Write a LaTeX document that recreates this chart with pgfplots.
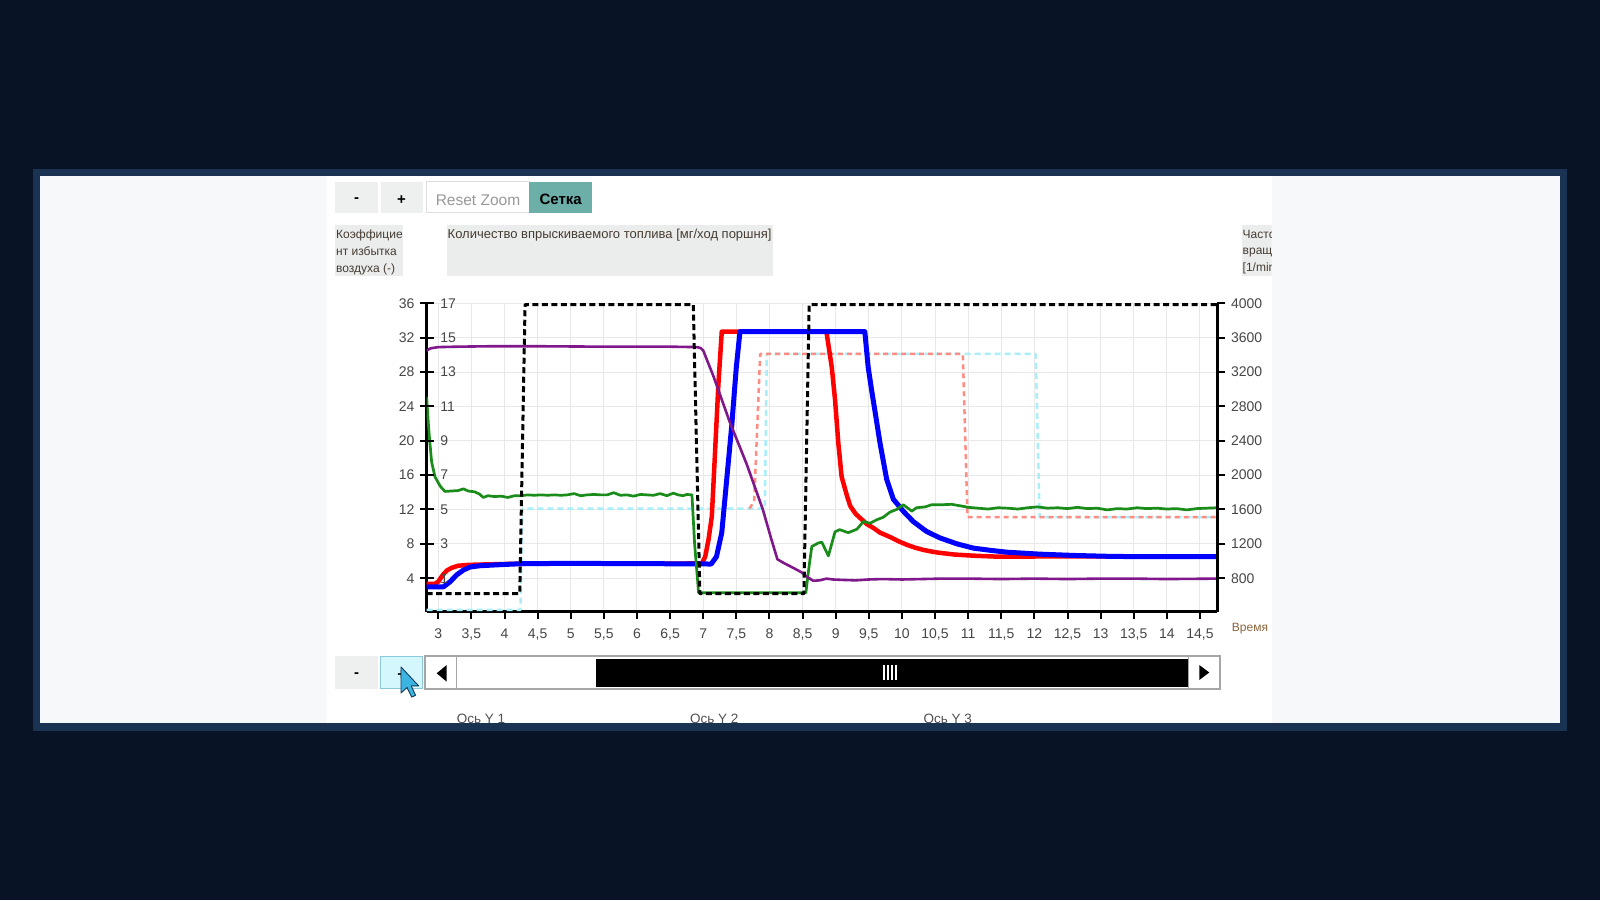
\documentclass[border=0pt]{standalone}
\usepackage{pgfplots}
\pgfplotsset{compat=1.18}
\usepackage{fontspec}
\setmainfont{Liberation Sans}
\definecolor{bgdark}{RGB}{8,20,38}
\definecolor{bord}{RGB}{27,51,82}
\definecolor{panel}{RGB}{247,248,250}
\definecolor{btngray}{RGB}{238,239,239}
\definecolor{tealbtn}{RGB}{108,174,168}
\definecolor{lblbox}{RGB}{235,237,237}
\definecolor{ticktext}{RGB}{70,70,70}
\definecolor{lbltext}{RGB}{70,60,50}
\definecolor{gridc}{RGB}{232,232,232}
\definecolor{cgreen}{RGB}{26,140,26}
\definecolor{cpurple}{RGB}{128,24,140}
\definecolor{csalmon}{RGB}{255,140,130}
\definecolor{ccyan}{RGB}{170,238,250}
\definecolor{plusbtn}{RGB}{212,246,253}
\definecolor{plusbord}{RGB}{140,200,220}
\definecolor{cursorc}{RGB}{60,180,225}
\pgfplotsset{
  commonaxis/.style={
    scale only axis, width=790.6pt, height=308.4pt,
    at={(426.7pt,288.3pt)}, anchor=south west,
    xmin=2.825, xmax=14.762,
    /pgf/number format/use comma,
    /pgf/number format/1000 sep={},
    /pgf/number format/assume math mode=true,
    tick label style={font=\fontsize{14}{14}\selectfont, text=ticktext},
  }
}
\begin{document}
\begin{tikzpicture}[x=1pt,y=1pt]
\useasboundingbox (0,0) rectangle (1600,900);
\fill[bgdark] (0,0) rectangle (1600,900);
\fill[bord] (33.3,169.3) rectangle (1566.7,730.7);
\fill[panel] (40,176.7) rectangle (1560,724);
\fill[white] (326.7,176.7) rectangle (1271.7,724);
% top buttons
\fill[btngray] (335,687) rectangle (378,718);
\node[font=\bfseries\fontsize{15}{15}\selectfont] at (356.5,699.5) {-};
\fill[btngray] (380.5,687) rectangle (422.5,718);
\node[font=\bfseries\fontsize{15}{15}\selectfont] at (401.5,700) {+};
\filldraw[fill=white, draw=gray!25, line width=1pt] (426,687) rectangle (529,718);
\node[font=\fontsize{15.5}{15.5}\selectfont, text=gray!80] at (478,700) {Reset Zoom};
\fill[tealbtn] (529,687) rectangle (592.3,718);
\node[font=\bfseries\fontsize{15}{15}\selectfont] at (560.7,700.5) {Сетка};
% label boxes
\fill[lblbox] (335,624) rectangle (403.3,675);
\begin{scope}[font=\fontsize{12}{12}\selectfont, text=lbltext]
\node[anchor=base west, inner sep=0pt] at (336,661) {Коэффицие};
\node[anchor=base west, inner sep=0pt] at (336,644.5) {нт избытка};
\node[anchor=base west, inner sep=0pt] at (336,627.8) {воздуха (-)};
\end{scope}
\fill[lblbox] (446.7,624) rectangle (772.7,675);
\node[anchor=base west, inner sep=0pt, font=\fontsize{13}{13}\selectfont, text=lbltext] at (447.5,661) {Количество впрыскиваемого топлива [мг/ход поршня]};
\begin{scope}
\clip (1240,600) rectangle (1271.7,700);
\fill[lblbox] (1241.7,624) rectangle (1275,675);
\begin{scope}[font=\fontsize{12}{12}\selectfont, text=lbltext]
\node[anchor=base west, inner sep=0pt] at (1242.5,661) {Частота};
\node[anchor=base west, inner sep=0pt] at (1242.5,645.5) {вращения};
\node[anchor=base west, inner sep=0pt] at (1242.5,628.5) {[1/min]};
\end{scope}
\end{scope}
% Time label
\node[anchor=west, inner sep=0pt, font=\fontsize{12}{12}\selectfont, text={rgb,255:red,140;green,100;blue,60}] at (1231.7,271) {Время};

% main axis with data
\begin{axis}[commonaxis, ymin=0.1, ymax=36,
  axis x line*=bottom, axis y line*=left,
  axis line style={line width=2.7pt, black},
  xtick={3,3.5,...,14.5},
  ytick={4,8,...,36},
  grid=major, grid style={line width=1pt, gridc},
  tick align=outside, major tick length=7pt,
  xtick style={line width=2pt, black},
  ytick style={draw=none},
  yticklabel style={anchor=east, inner sep=0pt, xshift=-5pt},
  xticklabel style={anchor=north, inner sep=0pt, yshift=-10pt},
  every axis plot/.append style={line join=round, line cap=round},
]
\addplot[ccyan, line width=2.5pt, dash pattern=on 6pt off 4pt, line cap=butt] coordinates {(2.825,0.3) (4.24,0.3) (4.27,12.1) (7.93,12.1) (7.96,30.1) (12.02,30.1) (12.08,11.1) (14.762,11.1)};
\addplot[csalmon, line width=2.5pt, dash pattern=on 5pt off 4pt, line cap=butt] coordinates {(7.70,12.1) (7.77,13.0) (7.86,30.1) (10.92,30.1) (10.99,11.1) (14.762,11.1)};
\addplot[red, line width=4.5pt] coordinates {(2.825,3.35) (2.95,3.35) (3.0,3.6) (3.07,4.4) (3.13,4.9) (3.2,5.2) (3.3,5.45) (3.45,5.55) (3.7,5.6) (4.0,5.65) (4.5,5.7) (5.5,5.7) (6.5,5.7) (6.98,5.72) (7.03,6.5) (7.08,8.5) (7.13,11.2) (7.18,18.9) (7.23,26.7) (7.28,32.7) (8.86,32.7) (8.94,28.6) (8.99,24.8) (9.04,19.7) (9.09,15.8) (9.17,13.6) (9.22,12.4) (9.30,11.5) (9.37,11.0) (9.47,10.3) (9.57,9.85) (9.67,9.3) (9.82,8.8) (9.95,8.3) (10.07,7.9) (10.2,7.55) (10.32,7.3) (10.45,7.1) (10.57,6.95) (10.8,6.75) (11.08,6.62) (11.4,6.52) (11.8,6.5) (12.2,6.55) (13.0,6.55) (14.0,6.55) (14.762,6.55)};
\addplot[blue, line width=5pt] coordinates {(2.825,3.0) (3.08,3.0) (3.18,3.6) (3.28,4.4) (3.38,4.95) (3.48,5.3) (3.63,5.45) (4.0,5.6) (4.3,5.7) (5.0,5.72) (6.0,5.7) (7.12,5.65) (7.2,6.5) (7.28,9.3) (7.35,15.1) (7.43,21.7) (7.5,28.6) (7.555,32.7) (9.44,32.7) (9.49,28.6) (9.54,26.0) (9.59,23.6) (9.67,19.7) (9.77,15.5) (9.87,13.2) (10.02,11.8) (10.17,10.6) (10.37,9.45) (10.57,8.7) (10.83,8.0) (11.08,7.5) (11.33,7.25) (11.58,7.03) (12.08,6.8) (12.59,6.65) (13.1,6.55) (13.6,6.5) (14.762,6.5)};
\addplot[cgreen, line width=2.7pt] coordinates {(2.825,25.0) (2.85,22.0) (2.87,20.0) (2.9,17.5) (2.95,15.8) (3.03,14.7) (3.1,14.1) (3.2,14.15) (3.3,14.2) (3.38,14.4) (3.45,14.15) (3.55,14.05) (3.62,13.8) (3.68,13.4) (3.75,13.6) (3.85,13.5) (3.95,13.55) (4.05,13.4) (4.15,13.6) (4.25,13.6) (4.35,13.7) (4.45,13.65) (4.55,13.7) (4.65,13.65) (4.75,13.7) (4.85,13.65) (4.95,13.7) (5.05,13.85) (5.15,13.6) (5.25,13.7) (5.35,13.75) (5.45,13.7) (5.55,13.7) (5.65,13.95) (5.75,13.65) (5.85,13.7) (5.95,13.55) (6.05,13.75) (6.15,13.7) (6.25,13.65) (6.35,13.85) (6.45,13.6) (6.55,13.9) (6.62,13.7) (6.7,13.6) (6.75,13.75) (6.83,13.7) (6.87,8.0) (6.93,2.3) (8.55,2.3) (8.6,5.5) (8.64,7.7) (8.74,8.1) (8.79,8.2) (8.89,6.6) (8.99,9.4) (9.06,9.65) (9.19,9.3) (9.32,9.7) (9.42,10.6) (9.52,10.4) (9.62,10.8) (9.72,11.1) (9.82,11.7) (9.92,12.0) (10.02,12.55) (10.15,11.8) (10.22,12.2) (10.35,12.3) (10.45,12.55) (10.6,12.55) (10.75,12.6) (10.9,12.4) (11.0,12.25) (11.15,12.15) (11.3,12.05) (11.45,12.2) (11.6,12.15) (11.75,12.05) (11.9,12.2) (12.05,12.3) (12.2,12.15) (12.35,12.2) (12.5,12.1) (12.65,12.25) (12.8,12.1) (12.95,12.15) (13.1,11.95) (13.25,12.1) (13.4,12.05) (13.55,12.2) (13.7,12.1) (13.85,12.15) (14.0,12.05) (14.15,12.1) (14.3,11.95) (14.45,12.1) (14.6,12.15) (14.762,12.2)};
\addplot[cpurple, line width=2.6pt] coordinates {(2.825,30.5) (2.88,30.75) (3.0,30.9) (3.3,30.95) (3.8,31.0) (4.5,31.0) (5.5,30.95) (6.5,30.95) (6.9,30.9) (6.96,30.8) (7.0,30.5) (7.15,27.6) (7.4,22.2) (7.66,17.2) (7.9,12.0) (8.03,8.5) (8.12,6.2) (8.22,5.75) (8.36,5.2) (8.48,4.7) (8.56,4.2) (8.66,3.7) (8.76,3.75) (8.86,3.95) (8.96,3.85) (9.1,3.8) (9.3,3.75) (9.5,3.85) (9.7,3.9) (10,3.85) (10.3,3.9) (10.6,3.95) (11,3.95) (11.5,3.9) (12,3.95) (12.5,3.9) (13,3.95) (13.5,3.95) (14,3.9) (14.762,3.95)};
\addplot[black, line width=3pt, dash pattern=on 6pt off 3.5pt, line cap=butt] coordinates {(2.825,2.2) (4.23,2.2) (4.31,35.85) (6.85,35.85) (6.95,2.2) (8.52,2.2) (8.60,35.85) (14.762,35.85)};
\end{axis}

% middle axis labels + left ticks
\begin{axis}[commonaxis, ymin=0.1, ymax=36,
  hide x axis, axis y line*=left,
  y axis line style={draw=none},
  ytick={4,8,...,36}, yticklabels={1,3,5,7,9,11,13,15,17},
  tick align=center, major tick length=14pt,
  ytick style={line width=2pt, black},
  yticklabel style={anchor=west, inner sep=0pt, xshift=20.5pt},
]
\end{axis}

% right axis
\begin{axis}[commonaxis, ymin=410, ymax=4000,
  hide x axis, axis y line*=right,
  axis line style={line width=2.7pt, black},
  ytick={800,1200,...,4000},
  tick align=outside, major tick length=8pt,
  ytick style={line width=2pt, black},
  yticklabel style={anchor=west, inner sep=0pt, xshift=5.5pt},
]
\end{axis}

% bottom controls
\fill[btngray] (335,210.7) rectangle (378.3,244);
\node[font=\bfseries\fontsize{15}{15}\selectfont] at (356.7,224.5) {-};
\filldraw[fill=plusbtn, draw=plusbord, line width=1pt] (380.5,211.2) rectangle (422.8,243.5);
\node[font=\bfseries\fontsize{15}{15}\selectfont] at (401.7,225) {+};
\filldraw[fill=white, draw=gray!70, line width=2pt] (425,210.7) rectangle (1220,244);
\draw[gray!70, line width=1.5pt] (456.7,210.7) -- (456.7,244);
\fill[black] (436.7,226.7) -- (446.7,235) -- (446.7,218.3) -- cycle;
\fill[black] (596,213) rectangle (1188.3,241);
\draw[gray!70, line width=1.5pt] (1188.3,210.7) -- (1188.3,244);
\fill[black] (1209.3,227.5) -- (1199.3,235) -- (1199.3,220) -- cycle;
\foreach \gx in {884,888,892,896} {\draw[white, line width=1.6pt] (\gx,220) -- (\gx,235);}
% cursor
\filldraw[fill=cursorc, draw={rgb,255:red,20;green,60;blue,90}, line width=0.9pt, line join=round]
  (401,233) -- ++(0,-26) -- ++(6,5.5) -- ++(4.7,-9.6) -- ++(3.9,1.8) -- ++(-4.4,9.4) -- ++(7.5,0) -- cycle;
% axis names at the bottom, clipped by the panel
\begin{scope}
\clip (40,176.7) rectangle (1560,724);
\begin{scope}[font=\fontsize{13.5}{13.5}\selectfont, text={rgb,255:red,80;green,80;blue,80}]
\node[anchor=base west, inner sep=0pt] at (456.7,176.5) {Ось Y 1};
\node[anchor=base west, inner sep=0pt] at (690,176.5) {Ось Y 2};
\node[anchor=base west, inner sep=0pt] at (923.3,176.5) {Ось Y 3};
\end{scope}
\end{scope}
\end{tikzpicture}
\end{document}
